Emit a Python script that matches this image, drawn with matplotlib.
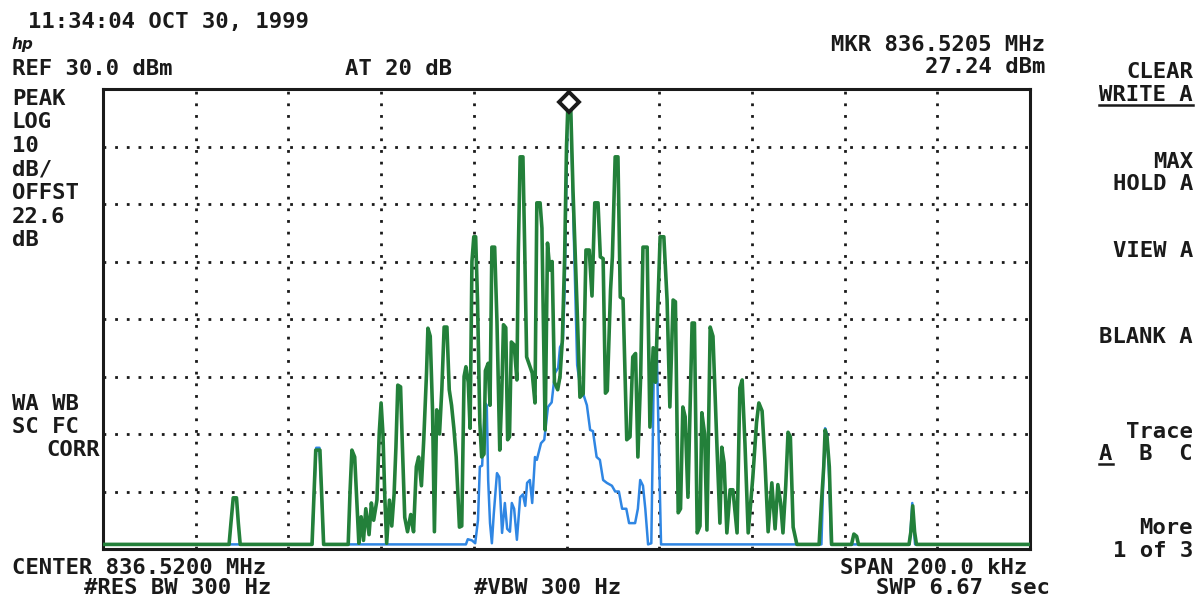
import matplotlib
matplotlib.use("Agg")
import matplotlib.pyplot as plt
from matplotlib.lines import Line2D

# Spectrum analyser screen: offset from 836.5200 MHz centre (kHz) and level (dBm)
green_khz = [-100.0, -72.8, -72.4, -71.9, -71.2, -70.8, -70.4, -54.9, -54.5, -54.1,
             -53.2, -52.8, -52.4, -47.1, -46.7, -46.3, -45.7, -45.3, -44.8, -44.3,
             -43.8, -43.3, -42.6, -42.1, -41.6, -40.9, -40.4, -40.0, -39.6, -39.2,
             -38.8, -38.2, -37.7, -37.2, -36.8, -36.4, -35.8, -35.4, -34.9, -34.3,
             -33.6, -33.0, -32.4, -31.9, -31.3, -30.8, -30.2, -29.9, -29.4, -28.9,
             -28.5, -28.0, -27.4, -26.9, -26.4, -25.8, -25.3, -24.8, -24.3, -23.8,
             -23.1, -22.6, -22.1, -21.7, -21.2, -20.8, -20.4, -20.0, -19.6, -19.2,
             -18.7, -18.3, -17.8, -17.5, -16.9, -16.5, -16.1, -15.5, -15.0, -14.4,
             -14.0, -13.6, -13.1, -12.7, -12.3, -11.9, -11.3, -10.7, -10.4, -10.0,
             -9.4, -9.0, -8.6, -8.0, -7.4, -6.8, -6.4, -5.7, -5.3, -5.0,
             -4.6, -4.1, -3.6, -3.1, -2.6, -1.9, -1.4, -0.9, -0.4, 0.0,
             0.3, 0.9, 1.4, 2.3, 2.9, 3.6, 4.2, 4.9, 5.5, 6.1,
             6.8, 7.3, 7.9, 8.4, 8.8, 9.5, 9.9, 10.5, 11.1, 11.6,
             12.2, 13.0, 13.7, 14.3, 14.9, 15.4, 16.0, 16.5, 17.4, 18.0,
             18.7, 19.2, 19.7, 20.2, 21.0, 21.7, 22.3, 23.0, 23.5, 24.1,
             24.6, 25.1, 25.6, 26.2, 27.1, 27.6, 28.2, 28.8, 29.2, 29.8,
             30.3, 31.0, 31.6, 32.5, 33.1, 33.5, 34.0, 34.6, 35.3, 35.9,
             36.8, 37.4, 37.9, 38.5, 39.2, 40.2, 41.0, 41.5, 42.2, 42.8,
             43.5, 44.3, 45.0, 45.6, 46.2, 46.7, 47.3, 47.8, 48.3, 48.9,
             49.7, 54.5, 55.0, 55.5, 55.8, 56.2, 56.7, 57.2, 61.5, 62.0,
             62.6, 63.0, 73.9, 74.3, 74.7, 75.1, 75.5, 100.0]
green_dbm = [-49.2, -49.2, -45.5, -41.1, -41.1, -45.5, -49.2, -49.2, -41.0, -32.8,
             -32.8, -41.0, -49.2, -49.2, -40.0, -32.8, -34.0, -40.5, -49.0, -44.4,
             -48.5, -43.0, -47.5, -42.0, -45.0, -41.5, -29.8, -24.6, -30.0, -41.0,
             -49.0, -41.5, -46.0, -40.5, -32.3, -21.5, -21.8, -32.3, -44.5, -47.0,
             -44.0, -47.0, -35.7, -34.0, -39.0, -31.0, -19.4, -11.6, -13.0, -26.0,
             -47.0, -25.8, -30.0, -22.3, -11.4, -11.4, -22.3, -25.0, -29.0, -34.0,
             -46.2, -46.0, -20.0, -18.3, -21.0, -29.0, 0.0, 4.3, 4.3, -6.7,
             -28.1, -34.0, -33.5, -19.0, -17.7, -25.0, 2.5, 2.5, -10.5, -32.8,
             -24.0, -11.0, -11.5, -31.0, -30.5, -14.0, -14.5, -20.6, 1.5, 18.2,
             18.2, 1.5, -16.6, -18.0, -19.4, -24.6, 10.2, 10.2, 5.8, -10.0,
             -29.3, 3.2, -1.5, 0.0, -21.0, -22.3, -20.0, -13.7, 0.8, 20.0,
             27.2, 27.0, 12.4, -8.4, -23.6, -23.0, 2.0, 2.0, -6.0, 10.2,
             10.2, 0.8, 0.5, -22.9, -22.5, -5.0, 0.8, 18.2, 18.2, -6.2,
             -6.5, -31.0, -30.5, -16.6, -16.0, -34.0, -20.0, 2.5, 2.5, -28.8,
             -15.0, -21.0, -8.0, 4.3, 4.3, -6.7, -25.3, -6.7, -7.0, -43.7,
             -43.0, -25.3, -27.0, -41.0, -10.7, -10.7, -47.2, -46.0, -26.3, -30.0,
             -46.7, -11.4, -13.0, -33.0, -45.5, -32.3, -35.0, -47.2, -39.7, -39.7,
             -47.2, -22.0, -20.6, -31.6, -47.2, -37.5, -28.0, -24.6, -26.0, -34.5,
             -47.0, -38.5, -46.5, -38.8, -42.0, -47.2, -39.0, -29.7, -30.5, -46.2,
             -49.2, -49.2, -42.0, -35.7, -29.3, -30.5, -35.7, -49.2, -49.2, -47.4,
             -47.8, -49.2, -49.2, -47.0, -42.5, -47.0, -49.2, -49.2]

blue_khz = [-100.0, -54.9, -54.5, -54.0, -53.3, -52.8, -52.4, -21.7, -21.3, -20.4,
            -19.7, -19.1, -18.7, -18.2, -17.6, -17.2, -16.9, -16.5, -16.1, -15.7,
            -15.0, -14.5, -13.9, -13.3, -12.8, -12.2, -11.8, -11.3, -10.7, -10.0,
            -9.4, -8.9, -8.5, -7.9, -7.4, -6.8, -6.4, -5.5, -4.8, -4.0,
            -3.2, -2.5, -1.8, -1.4, -0.8, -0.4, 0.0, 0.3, 0.9, 1.4,
            2.3, 2.9, 3.6, 4.4, 5.1, 5.7, 6.5, 7.2, 7.9, 8.7,
            9.8, 10.5, 11.3, 12.0, 12.9, 13.5, 14.8, 15.4, 15.9, 16.5,
            17.0, 17.6, 18.3, 18.9, 19.5, 20.0, 20.4, 55.0, 55.4, 55.8,
            56.2, 56.7, 57.1, 74.0, 74.3, 74.6, 74.9, 75.2, 100.0]
blue_dbm = [-49.2, -49.2, -41.0, -32.4, -32.4, -41.0, -49.2, -49.2, -48.3, -48.5,
            -49.0, -45.0, -35.7, -35.5, -24.6, -25.0, -38.0, -45.5, -49.0, -44.0,
            -36.8, -37.5, -47.2, -42.0, -46.5, -47.0, -42.0, -43.0, -48.4, -41.0,
            -40.5, -42.5, -38.5, -38.0, -42.0, -34.0, -34.5, -31.6, -31.0, -25.3,
            -24.5, -19.4, -18.5, -14.9, -14.0, -5.0, 15.0, 27.4, 27.2, 10.0,
            -18.0, -21.5, -23.0, -25.0, -29.3, -29.5, -34.0, -34.5, -38.0, -38.5,
            -39.0, -40.0, -40.0, -43.0, -43.0, -45.5, -45.5, -43.0, -38.0, -39.0,
            -43.0, -49.2, -49.0, -15.4, -16.0, -35.0, -49.2, -49.2, -38.0, -29.0,
            -30.0, -38.0, -49.2, -49.2, -46.0, -42.0, -46.0, -49.2, -49.2]

marker_khz = 0.5
marker_dbm = 27.24

W, H = 1200, 599
INK = '#1a1a1a'
FONT = dict(family='DejaVu Sans Mono', fontweight='bold', color=INK, fontsize=16)


def px(x, y):
    return x / W, 1 - y / H


def label(x, y, s, ha='left', **kw):
    opts = dict(FONT)
    opts.update(kw)
    fx, fy = px(x, y)
    return fig.text(fx, fy, s, ha=ha, va='baseline', **opts)


# underline the first n characters of a text item
def underline(txt, y, nchars=None):
    renderer = fig.canvas.get_renderer()
    bb = txt.get_window_extent(renderer)
    x0, x1 = bb.x0, bb.x1
    if nchars is not None:
        s = txt.get_text()
        x1 = x0 + (x1 - x0) * nchars / len(s)
    yy = 1 - y / H
    fig.add_artist(Line2D([x0 / W, x1 / W], [yy, yy], color=INK, linewidth=1.8))


fig = plt.figure(figsize=(12, 5.99), dpi=100)
fig.patch.set_facecolor('white')

ax = fig.add_axes([103 / W, 1 - 549 / H, 927 / W, 460 / H])
ax.set_xlim(-100, 100)
ax.set_ylim(-50, 30)
ax.set_xticks(range(-80, 100, 20))
ax.set_yticks(range(-40, 30, 10))
ax.tick_params(length=0, labelbottom=False, labelleft=False)
ax.grid(True, color=INK, linestyle=(0, (1, 3.2)), linewidth=2.0)
for sp in ax.spines.values():
    sp.set_linewidth(2.2)
    sp.set_color(INK)

ax.plot(blue_khz, blue_dbm, color='#2f86e3', linewidth=1.8, zorder=3)
ax.plot(green_khz, green_dbm, color='#23803a', linewidth=2.6, zorder=4)
ax.plot(marker_khz, marker_dbm + 0.5, marker='D', markersize=10, markerfacecolor='white',
        markeredgecolor=INK, markeredgewidth=2.8, zorder=6, clip_on=False)

# header
label(28, 28, '11:34:04 OCT 30, 1999')
label(12, 49, 'hp', fontsize=11, fontstyle='italic', family='DejaVu Sans')
label(12, 75, 'REF 30.0 dBm')
label(345, 75, 'AT 20 dB')
label(1045, 51, 'MKR 836.5205 MHz', ha='right')
label(1045, 73, '27.24 dBm', ha='right')

# left annotations
left_lines = ['PEAK', 'LOG', '10', 'dB/', 'OFFST', '22.6', 'dB']
for i, s in enumerate(left_lines):
    label(12, 105 + i * 23.5, s)
label(12, 410, 'WA WB')
label(12, 433, 'SC FC')
label(100, 456, 'CORR', ha='right')

# softkey menu
menu = [('CLEAR', 78), ('WRITE A', 101), ('MAX', 168), ('HOLD A', 190),
        ('VIEW A', 257), ('BLANK A', 343), ('Trace', 438), ('A  B  C', 460),
        ('More', 534), ('1 of 3', 557)]
items = {}
for s, y in menu:
    items[s] = label(1193, y, s, ha='right')
underline(items['WRITE A'], 105)
underline(items['A  B  C'], 464, nchars=1)

# footer
label(12, 574, 'CENTER 836.5200 MHz')
label(84, 594, '#RES BW 300 Hz')
label(474, 594, '#VBW 300 Hz')
label(1027, 574, 'SPAN 200.0 kHz', ha='right')
label(1050, 594, 'SWP 6.67  sec', ha='right')

fig.savefig('out.png', dpi=100, facecolor='white')
